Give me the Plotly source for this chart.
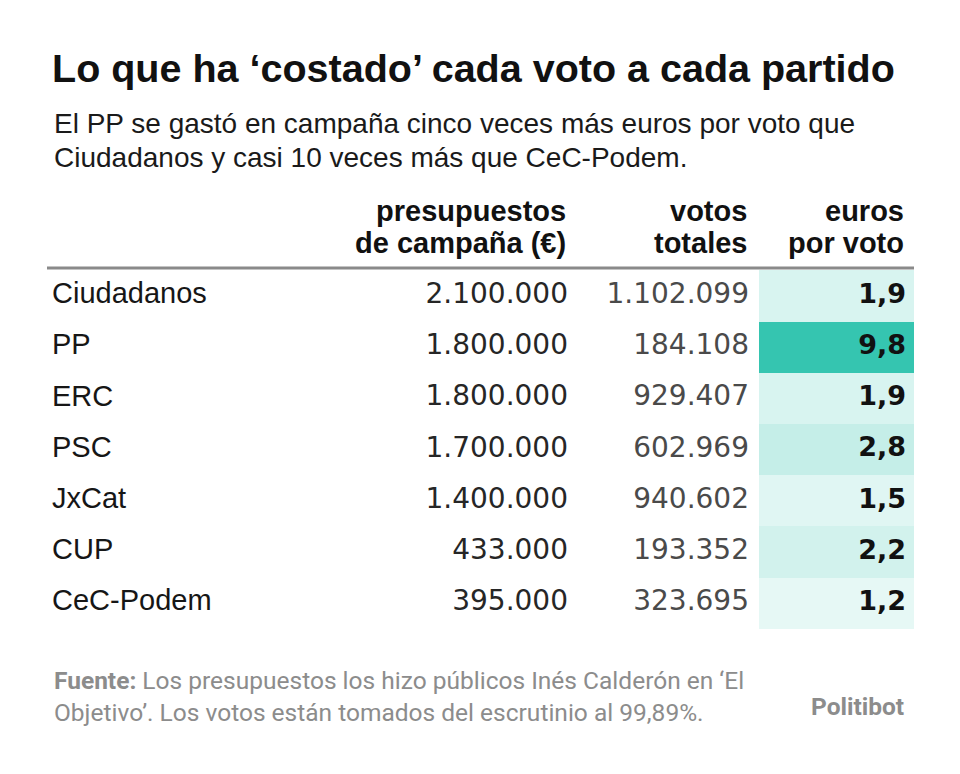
import plotly.graph_objects as go

# ---- data ----
parties = ["Ciudadanos", "PP", "ERC", "PSC", "JxCat", "CUP", "CeC-Podem"]
budgets = [2100000, 1800000, 1800000, 1700000, 1400000, 433000, 395000]
votes = [1102099, 184108, 929407, 602969, 940602, 193352, 323695]
euros_per_vote = [1.9, 9.8, 1.9, 2.8, 1.5, 2.2, 1.2]
header_labels = [("presupuestos", "de campaña (€)"), ("votos", "totales"), ("euros", "por voto")]

title = "Lo que ha ‘costado’ cada voto a cada partido"
subtitle_lines = ["El PP se gastó en campaña cinco veces más euros por voto que",
                  "Ciudadanos y casi 10 veces más que CeC-Podem."]
source_lines = ["<b>Fuente:</b> Los presupuestos los hizo públicos Inés Calderón en ‘El",
                "Objetivo’. Los votos están tomados del escrutinio al 99,89%."]
brand = "Politibot"


def fmt_int(v):
    return f"{v:,}".replace(",", ".")


def fmt_dec(v):
    return f"{v:.1f}".replace(".", ",")


PAGE_W, PAGE_H = 960, 774
OFF = 8  # body margin of the html page
W, H = PAGE_W - OFF, PAGE_H - OFF
ROW0, ROWH = 296, 51.2  # page-pixel centre of first row, row height
SANS = "Liberation Sans"
NUM = "DejaVu Sans"
FOOT = "Roboto"
GREY = "#8c8c8c"


def px(xp):
    return (xp - OFF) / W


def py(yp):
    return 1 - (yp - OFF) / H


fig = go.Figure()

# coloured cells of "euros por voto"
fig.add_trace(go.Bar(
    y=parties, x=[155] * len(parties), base=759, orientation="h", width=1.0,
    marker=dict(color=euros_per_vote, cmin=0, cmax=9.8,
                colorscale=[[0, "#ffffff"], [1, "#35c5b0"]], line=dict(width=0)),
    hoverinfo="skip", showlegend=False,
))

# party names
fig.add_trace(go.Scatter(
    x=[52] * len(parties), y=parties, text=parties, mode="text",
    textposition="middle right", textfont=dict(family=SANS, size=29, color="#161616"),
    hoverinfo="skip", showlegend=False,
))
# budgets
fig.add_trace(go.Scatter(
    x=[568] * len(parties), y=parties, text=[fmt_int(v) for v in budgets], mode="text",
    textposition="middle left", textfont=dict(family=NUM, size=28, color="#262626"),
    hoverinfo="skip", showlegend=False,
))
# votes
fig.add_trace(go.Scatter(
    x=[749] * len(parties), y=parties, text=[fmt_int(v) for v in votes], mode="text",
    textposition="middle left", textfont=dict(family=NUM, size=28, color="#4a4a4a"),
    hoverinfo="skip", showlegend=False,
))
# euros per vote
fig.add_trace(go.Scatter(
    x=[906] * len(parties), y=parties, text=[f"<b>{fmt_dec(v)}</b>" for v in euros_per_vote],
    mode="text", textposition="middle left",
    textfont=dict(family=NUM, size=27, color="#111111"),
    hoverinfo="skip", showlegend=False,
))


def ann(x, y, text, size, color, family=SANS, xanchor="left"):
    return dict(x=px(x), y=py(y), xref="paper", yref="paper", text=text, showarrow=False,
                xanchor=xanchor, yanchor="middle", align=xanchor,
                font=dict(family=family, size=size, color=color))


annotations = [ann(50, 68, f"<b>{title}</b>", 39.5, "#111111")]
for i, line in enumerate(subtitle_lines):
    annotations.append(ann(52, 124 + 33 * i, line, 28, "#1a1a1a"))
for i, line in enumerate(source_lines):
    annotations.append(ann(52, 680 + 32 * i, line, 24.5, GREY, family=FOOT))
annotations.append(ann(906, 706, f"<b>{brand}</b>", 24.5, GREY, family=FOOT, xanchor="right"))
for (l1, l2), xr in zip(header_labels, [568, 749, 906]):
    annotations.append(ann(xr, 211, f"<b>{l1}</b>", 29, "#111111", xanchor="right"))
    annotations.append(ann(xr, 243, f"<b>{l2}</b>", 29, "#111111", xanchor="right"))

fig.update_layout(
    width=W, height=H, margin=dict(l=0, r=0, t=0, b=0),
    paper_bgcolor="white", plot_bgcolor="white",
    xaxis=dict(range=[OFF, PAGE_W], visible=False, fixedrange=True),
    yaxis=dict(type="category", categoryorder="array", categoryarray=parties,
               range=[(PAGE_H - ROW0) / ROWH, (OFF - ROW0) / ROWH], visible=False,
               fixedrange=True),
    annotations=annotations,
    shapes=[dict(type="line", xref="x", yref="paper", x0=47, x1=914,
                 y0=py(268), y1=py(268), line=dict(color="#8a8a8a", width=3))],
    bargap=0,
)

fig.write_html("out.html")
